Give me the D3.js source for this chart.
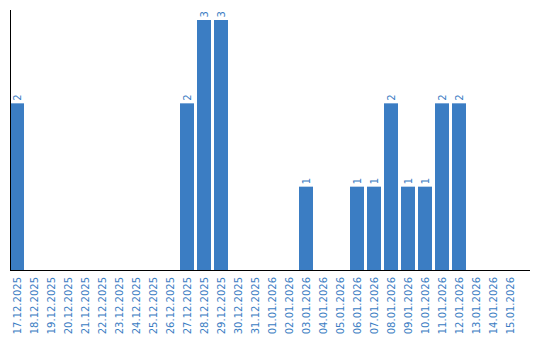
<!DOCTYPE html>
<html><head><meta charset="utf-8">
<script src="https://cdn.jsdelivr.net/npm/d3@7"></script>
<style>body{margin:0;background:#fff}svg{display:block}</style>
</head><body><svg id="c" width="540" height="340"></svg>
<script>
const dates = ["17.12.2025","18.12.2025","19.12.2025","20.12.2025","21.12.2025","22.12.2025","23.12.2025","24.12.2025","25.12.2025","26.12.2025","27.12.2025","28.12.2025","29.12.2025","30.12.2025","31.12.2025","01.01.2026","02.01.2026","03.01.2026","04.01.2026","05.01.2026","06.01.2026","07.01.2026","08.01.2026","09.01.2026","10.01.2026","11.01.2026","12.01.2026","13.01.2026","14.01.2026","15.01.2026"];
const counts = [2,0,0,0,0,0,0,0,0,0,2,3,3,0,0,0,0,1,0,0,1,1,2,1,1,2,2,0,0,0];
const blue = "#3b7dc3";
const svg = d3.select("#c");
const x = d3.scaleBand().domain(dates).range([10,520]).paddingInner(3/17).paddingOuter(1.5/17).align(0);
const y = d3.scaleLinear().domain([0,3.12]).range([270,10]);
const data = dates.map((d,i)=>({d, v:counts[i]}));
svg.selectAll("rect.bar").data(data.filter(e=>e.v>0)).join("rect")
  .attr("x",e=>x(e.d)).attr("width",x.bandwidth())
  .attr("y",e=>y(e.v)).attr("height",e=>y(0)-y(e.v)).attr("fill",blue);
svg.selectAll("text.val").data(data.filter(e=>e.v>0)).join("text")
  .attr("transform",e=>`translate(${x(e.d)+x.bandwidth()/2+3.6},${y(e.v)-2.5}) rotate(-90)`)
  .attr("font-family","DejaVu Sans, Verdana, sans-serif").attr("font-size",10).attr("fill",blue)
  .text(e=>e.v);
const xa = svg.append("g").attr("transform","translate(0,270)")
  .call(d3.axisBottom(x).tickSize(0).tickPadding(0));
xa.select(".domain").remove();
xa.selectAll("text").attr("font-family","DejaVu Sans, Verdana, sans-serif").attr("font-size",10)
  .attr("fill",blue).attr("text-anchor","end").attr("dy",null)
  .attr("transform","translate(3.6,7) rotate(-90)").attr("y",0).attr("x",0);
svg.append("line").attr("x1",10.5).attr("x2",10.5).attr("y1",10).attr("y2",270).attr("stroke","#000");
svg.append("line").attr("x1",10).attr("x2",530).attr("y1",270.5).attr("y2",270.5).attr("stroke","#000");
</script></body></html>
